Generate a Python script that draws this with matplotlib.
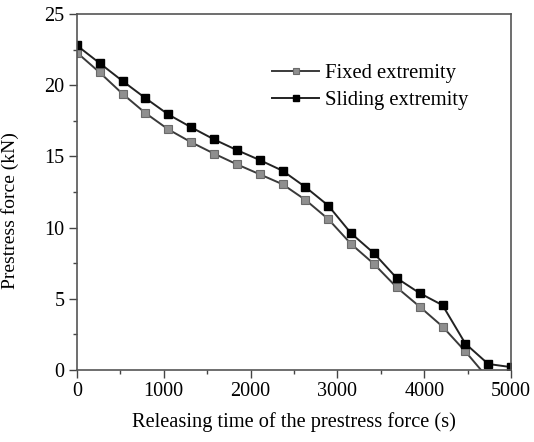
import matplotlib
matplotlib.use('Agg')
import matplotlib.pyplot as plt
from matplotlib.ticker import MultipleLocator

# releasing time (s) and prestress force (kN)
time_s = [0, 263, 526, 789, 1053, 1316, 1579, 1842, 2105, 2368,
          2632, 2895, 3158, 3421, 3684, 3947, 4211, 4474, 4737, 5000]
fixed = [22.3, 20.9, 19.4, 18.05, 16.9, 16.0, 15.2, 14.45, 13.75, 13.05,
         11.95, 10.6, 8.85, 7.45, 5.8, 4.45, 3.05, 1.3, -0.6, -0.8]
sliding = [22.8, 21.55, 20.3, 19.1, 17.95, 17.05, 16.2, 15.45, 14.75, 14.0,
           12.85, 11.55, 9.6, 8.2, 6.45, 5.4, 4.55, 1.85, 0.42, 0.2]

plt.rcParams['font.family'] = ['Liberation Serif', 'DejaVu Serif']

fig = plt.figure(figsize=(5.34, 4.42), dpi=100)
ax = fig.add_axes([0.144, 0.163, 0.813, 0.805])

ax.plot(time_s, fixed, color='#3a3a3a', lw=1.4, marker='s', ms=5.5,
        mfc='#8f8f8f', mec='#6a6a6a', mew=0.8, label='Fixed extremity')
ax.plot(time_s, sliding, color='#222222', lw=1.4, marker='s', ms=5.5,
        mfc='black', mec='black', label='Sliding extremity')

ax.set_xlim(0, 5000)
ax.set_ylim(0, 25)
ax.xaxis.set_major_locator(MultipleLocator(1000))
ax.xaxis.set_minor_locator(MultipleLocator(500))
ax.yaxis.set_major_locator(MultipleLocator(5))
ax.yaxis.set_minor_locator(MultipleLocator(2.5))
ax.tick_params(which='both', direction='out', top=False, right=False,
               labelsize=14.5, color='#444444')
ax.tick_params(which='major', length=5.5, width=1)
ax.tick_params(which='minor', length=3, width=1)
for s in ax.spines.values():
    s.set_color('#555555')
    s.set_linewidth(1.2)

ax.set_xlabel('Releasing time of the prestress force (s)', fontsize=14.7, labelpad=8)
ax.set_ylabel('Prestress force (kN)', fontsize=14)
ax.yaxis.set_label_coords(-0.134, 0.449)

ax.legend(loc='upper left', bbox_to_anchor=(0.43, 0.885), frameon=False,
          fontsize=14.9, handlelength=2.3, handletextpad=0.25, labelspacing=0.38,
          borderaxespad=0, markerscale=0.7)

fig.savefig('out.png', dpi=100)
